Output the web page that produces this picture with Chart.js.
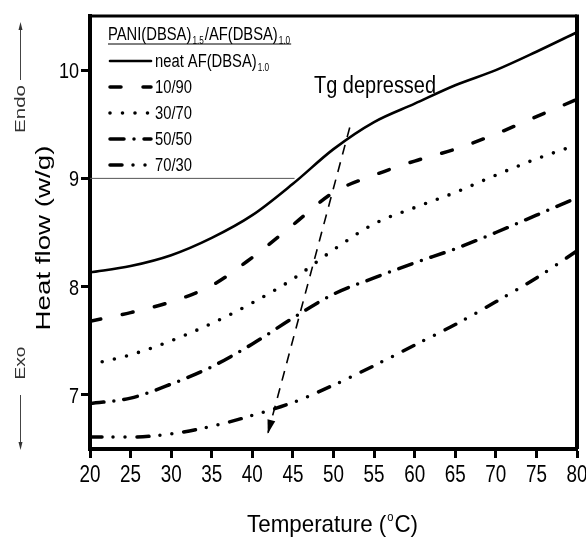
<!DOCTYPE html>
<html>
<head>
<meta charset="utf-8">
<script src="https://cdn.jsdelivr.net/npm/chart.js@4.4.1/dist/chart.umd.min.js"></script>
<style>
  body { margin: 0; background: #fff; }
  canvas { display: block; }
</style>
</head>
<body>
<canvas id="chart" width="586" height="537"></canvas>
<script>
// DSC traces, heat flow (w/g) against temperature (C)
const temps = [20, 25, 30, 35, 40, 45, 50, 55, 60, 65, 70, 75, 80];
const neatAF = [8.13, 8.19, 8.29, 8.45, 8.66, 8.95, 9.27, 9.52, 9.69, 9.86, 10.0, 10.17, 10.35];
const pani10 = [7.68, 7.76, 7.86, 8.01, 8.27, 8.57, 8.87, 9.03, 9.16, 9.27, 9.41, 9.57, 9.73];
const pani30 = [7.28, 7.37, 7.5, 7.66, 7.85, 8.07, 8.34, 8.58, 8.73, 8.87, 9.03, 9.18, 9.31];
const pani50 = [6.92, 6.97, 7.1, 7.26, 7.47, 7.71, 7.93, 8.08, 8.22, 8.35, 8.5, 8.66, 8.82];
const pani70 = [6.61, 6.61, 6.64, 6.71, 6.81, 6.93, 7.09, 7.27, 7.46, 7.65, 7.86, 8.08, 8.33];
const seriesLabels = ['neat AF(DBSA)', '10/90', '30/70', '50/50', '70/30'];
const yTicks = [7, 8, 9, 10];

// thin line at 9 under the legend block
const refT = [20, 45.2];
const refV = [9, 9];
// dashed arrow for the Tg shift
const arrowT = [52, 41.9];
const arrowV = [9.47, 6.64];

const FONT = '"Liberation Sans", Arial, sans-serif';
const SQUEEZE = 0.82; // no narrow face installed, so squeeze the regular one

function pts(xs, ys) {
  return xs.map((t, i) => ({ x: t, y: ys[i] }));
}

function curve(label, ys, width, dash) {
  return {
    label: label,
    data: pts(temps, ys),
    borderColor: '#000',
    borderWidth: width,
    borderDash: dash,
    borderCapStyle: 'round',
    borderJoinStyle: 'round',
    cubicInterpolationMode: 'monotone',
    pointRadius: 0,
    fill: false
  };
}

// text drawn with a horizontal scale factor, align: 'left' | 'center' | 'right'
function narrowText(ctx, text, x, y, size, align, sx) {
  ctx.font = size + 'px ' + FONT;
  const w = ctx.measureText(text).width * sx;
  let left = x;
  if (align === 'center') left = x - w / 2;
  if (align === 'right') left = x - w;
  ctx.save();
  ctx.textAlign = 'left';
  ctx.translate(left, y);
  ctx.scale(sx, 1);
  ctx.fillText(text, 0, 0);
  ctx.restore();
  return w;
}

const framePlugin = {
  id: 'frame',
  afterDatasetsDraw(chart) {
    const { ctx, chartArea: a } = chart;
    ctx.save();
    ctx.strokeStyle = '#000';
    ctx.lineWidth = 3;
    ctx.beginPath();
    ctx.moveTo(a.left, a.top);
    ctx.lineTo(a.right, a.top);
    ctx.stroke();
    ctx.lineWidth = 4;
    ctx.beginPath();
    ctx.moveTo(a.right, a.top - 1.5);
    ctx.lineTo(a.right, a.bottom);
    ctx.stroke();

    // arrowhead at the end of the Tg arrow
    const meta = chart.getDatasetMeta(6).data;
    const p0 = meta[meta.length - 2], p1 = meta[meta.length - 1];
    const ang = Math.atan2(p1.y - p0.y, p1.x - p0.x);
    ctx.fillStyle = '#000';
    ctx.translate(p1.x, p1.y);
    ctx.rotate(ang);
    ctx.beginPath();
    ctx.moveTo(0, 0);
    ctx.lineTo(-14, -4);
    ctx.lineTo(-14, 4);
    ctx.closePath();
    ctx.fill();
    ctx.restore();
  }
};

const labelPlugin = {
  id: 'labels',
  afterDraw(chart) {
    const { ctx, scales } = chart;
    const xs = scales.x, ys = scales.y;
    ctx.save();
    ctx.fillStyle = '#000';
    ctx.textBaseline = 'alphabetic';

    // tick labels, condensed
    xs.ticks.forEach(t => {
      narrowText(ctx, String(t.value), xs.getPixelForValue(t.value), 482, 23, 'center', SQUEEZE);
    });
    ys.ticks.forEach(t => {
      narrowText(ctx, String(t.value), 79, ys.getPixelForValue(t.value) + 8, 22, 'right', SQUEEZE);
    });

    // legend title with subscripts, underlined
    let x = 108;
    const ty = 40;
    const parts = [['PANI(DBSA)', 18, 0], ['1.5', 10, 4], ['/AF(DBSA)', 18, 0], ['1.0', 10, 4]];
    parts.forEach(([t, size, dy]) => {
      x += narrowText(ctx, t, x, ty + dy, size, 'left', SQUEEZE) + 1;
    });
    ctx.lineWidth = 1;
    ctx.strokeStyle = '#000';
    ctx.beginPath();
    ctx.moveTo(108, ty + 4);
    ctx.lineTo(x, ty + 4);
    ctx.stroke();

    // legend rows, samples use each dataset's own stroke
    seriesLabels.forEach((lab, i) => {
      const ds = chart.data.datasets[i];
      const ry = 61 + i * 26;
      ctx.save();
      ctx.strokeStyle = ds.borderColor;
      ctx.lineWidth = ds.borderWidth;
      ctx.lineCap = 'round';
      ctx.setLineDash(ds.borderDash);
      ctx.beginPath();
      ctx.moveTo(110, ry);
      ctx.lineTo(151, ry);
      ctx.stroke();
      ctx.restore();
      const w = narrowText(ctx, lab, 155, ry + 6, 18, 'left', SQUEEZE);
      if (i === 0) narrowText(ctx, '1.0', 156 + w, ry + 10, 10, 'left', SQUEEZE);
    });

    // Tg annotation
    ctx.font = '23px ' + FONT;
    const tw = ctx.measureText('Tg depressed').width;
    narrowText(ctx, 'Tg depressed', xs.getPixelForValue(47.6), ys.getPixelForValue(9.79), 23, 'left', 122 / tw);

    // x axis title with degree sign, stretched to its span
    ctx.font = '24px ' + FONT;
    const wa = ctx.measureText('Temperature (').width, wc = ctx.measureText('C)').width;
    ctx.font = '12px ' + FONT;
    const wo = ctx.measureText('o').width + 2;
    const tsx = 171 / (wa + wo + wc);
    let tx = 247;
    tx += narrowText(ctx, 'Temperature (', tx, 532, 24, 'left', tsx);
    tx += narrowText(ctx, 'o', tx + 1, 521, 12, 'left', tsx) + 2 * tsx;
    narrowText(ctx, 'C)', tx, 532, 24, 'left', tsx);

    // y axis title, rotated
    ctx.save();
    ctx.translate(50, 238);
    ctx.rotate(-Math.PI / 2);
    ctx.textAlign = 'center';
    ctx.font = '21px ' + FONT;
    const hw = ctx.measureText('Heat flow (w/g)').width;
    ctx.scale(185 / hw, 1);
    ctx.fillText('Heat flow (w/g)', 0, 0);
    ctx.restore();

    // Endo / Exo markers with arrows
    ctx.fillStyle = '#333';
    ctx.strokeStyle = '#444';
    ctx.lineWidth = 1;
    [['Endo', 109, 48], ['Exo', 363, 33]].forEach(([t, cy, len]) => {
      ctx.save();
      ctx.translate(25, cy);
      ctx.rotate(-Math.PI / 2);
      ctx.textAlign = 'center';
      ctx.font = '15px ' + FONT;
      ctx.scale(len / ctx.measureText(t).width, 1);
      ctx.fillText(t, 0, 0);
      ctx.restore();
    });
    ctx.beginPath();
    ctx.moveTo(20.5, 80);
    ctx.lineTo(20.5, 26);
    ctx.moveTo(20.5, 395);
    ctx.lineTo(20.5, 446);
    ctx.stroke();
    ctx.beginPath();
    ctx.moveTo(20.5, 22); ctx.lineTo(18.5, 30); ctx.lineTo(22.5, 30); ctx.closePath();
    ctx.moveTo(20.5, 450); ctx.lineTo(18.5, 442); ctx.lineTo(22.5, 442); ctx.closePath();
    ctx.fill();
    ctx.restore();
  }
};

const ctx = document.getElementById('chart');

const dscChart = new Chart(ctx, {
  type: 'line',
  data: {
    datasets: [
      curve(seriesLabels[0], neatAF, 2.6, []),
      curve(seriesLabels[1], pani10, 3.5, [11, 22]),
      curve(seriesLabels[2], pani30, 3.6, [0, 12.5]),
      curve(seriesLabels[3], pani50, 3.5, [14, 10, 0, 10]),
      curve(seriesLabels[4], pani70, 3.5, [12, 11, 0, 12, 0, 12]),
      {
        label: 'ref',
        data: pts(refT, refV),
        borderColor: '#555',
        borderWidth: 1,
        pointRadius: 0,
        tension: 0
      },
      {
        label: 'arrow',
        data: pts(arrowT, arrowV),
        borderColor: '#000',
        borderWidth: 1.6,
        borderDash: [10, 8],
        pointRadius: 0,
        tension: 0
      }
    ]
  },
  options: {
    responsive: false,
    animation: false,
    devicePixelRatio: 1,
    layout: { padding: { top: 16, right: 9, left: 0, bottom: 0 } },
    plugins: {
      legend: { display: false },
      tooltip: { enabled: false }
    },
    scales: {
      x: {
        type: 'linear',
        min: 20,
        max: 80,
        ticks: { stepSize: 5, display: false, autoSkip: false },
        grid: { drawOnChartArea: false, drawTicks: true, tickLength: 9, tickWidth: 3, tickColor: '#000' },
        border: { display: true, color: '#000', width: 4 },
        afterFit: (s) => { s.height = 88; }
      },
      y: {
        type: 'linear',
        min: 6.5,
        max: 10.5,
        afterBuildTicks: (s) => { s.ticks = yTicks.map(v => ({ value: v })); },
        ticks: { display: false },
        grid: { drawOnChartArea: false, drawTicks: true, tickLength: 9, tickWidth: 3, tickColor: '#000' },
        border: { display: true, color: '#000', width: 4 },
        afterFit: (s) => { s.width = 90; }
      }
    }
  },
  plugins: [framePlugin, labelPlugin]
});
</script>
</body>
</html>
